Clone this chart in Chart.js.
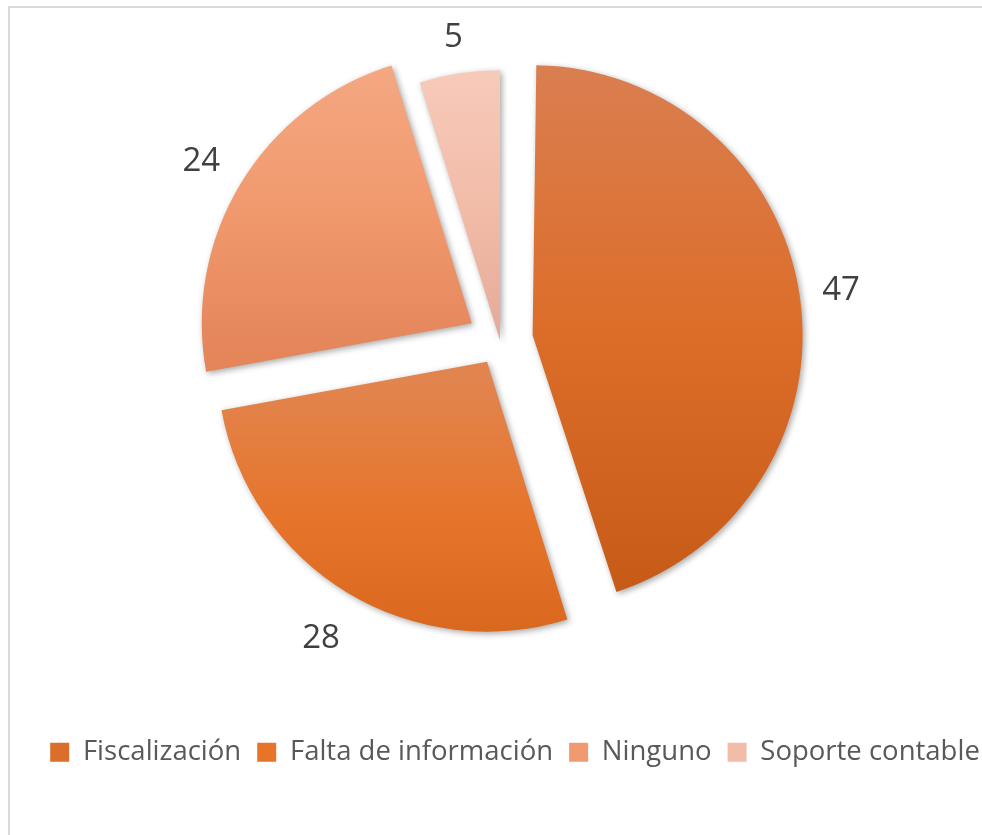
<!DOCTYPE html>
<html>
<head>
<meta charset="utf-8">
<script src="https://cdn.jsdelivr.net/npm/chart.js@4.4.0/dist/chart.umd.min.js"></script>
<style>
  html, body { margin: 0; padding: 0; background: #fff; overflow: hidden; }
  #frame { position: absolute; left: 8px; top: 6px; width: 1000px; height: 900px;
           border-top: 2px solid #d9d9d9; border-left: 2px solid #d9d9d9; }
  /* canvas is a bit taller / wider than the window so the pie sits where the original has it */
  #wrap { position: absolute; left: 0; top: -42px; width: 1010px; height: 877px; }
</style>
</head>
<body>
<div id="frame"></div>
<div id="wrap"><canvas id="myChart"></canvas></div>
<script>
// data
const categories = ['Fiscalización', 'Falta de información', 'Ninguno', 'Soporte contable'];
const values = [47, 28, 24, 5];

// style
const baseColors = ['#DC6E2C', '#E6752A', '#F29A6F', '#F2BCA9'];
const gradients = [
    ['#DA7E51', '#DC6E2A', '#C65B17'],
    ['#E2844E', '#E6742A', '#D7651B'],
    ['#F4A984', '#F29A6F', '#E4855A'],
    ['#F7CABA', '#F2BCA9', '#E4AA97']
];
const explode = [132, 100, 132, 0];   // chart.js moves a slice by offset/4
const labelPad = [42, 51, 46, 39];

const sliceLook = 
{
    id: 'sliceLook',
    beforeDatasetsDraw(chart) 
    {
        const c = chart.ctx;
        const meta = chart.getDatasetMeta(0);
        const baseR = meta.controller.outerRadius;
        meta.data.forEach((arc, i) => 
        {
            const p = arc.getProps(['x', 'y', 'startAngle', 'endAngle']);
            const off = (arc.options.offset || 0) / 4;
            // chart.js also grows an exploded slice's radius by off*fix, undo that
            const fix = 1 - Math.sin(Math.min(Math.PI, p.endAngle - p.startAngle));
            arc.outerRadius = baseR - off * fix;

            const half = (p.startAngle + p.endAngle) / 2;
            const cx = p.x + Math.cos(half) * off, cy = p.y + Math.sin(half) * off;
            let top = cy, bottom = cy;
            for (let k = 0; k <= 60; k++) 
            {
                const a = p.startAngle + (p.endAngle - p.startAngle) * k / 60;
                const yy = cy + Math.sin(a) * baseR;
                top = Math.min(top, yy);
                bottom = Math.max(bottom, yy);
            }
            const g = c.createLinearGradient(0, top, 0, bottom);
            const stops = gradients[i];
            stops.forEach((col, k) => g.addColorStop(k / (stops.length - 1), col));
            arc.options = Object.assign({}, arc.options, {backgroundColor: g});
        });
        c.save();
        c.shadowColor = 'rgba(0,0,0,0.35)';
        c.shadowBlur = 6;
        c.shadowOffsetX = 2;
        c.shadowOffsetY = 2;
    },
    afterDatasetsDraw(chart) 
    {
        const c = chart.ctx;
        c.restore();
        const meta = chart.getDatasetMeta(0);
        const baseR = meta.controller.outerRadius;
        c.save();
        c.font = '33px "Open Sans"';
        c.fillStyle = '#404040';
        c.textAlign = 'center';
        c.textBaseline = 'alphabetic';
        meta.data.forEach((arc, i) => 
        {
            const p = arc.getProps(['x', 'y', 'startAngle', 'endAngle']);
            const half = (p.startAngle + p.endAngle) / 2;
            const d = (arc.options.offset || 0) / 4 + baseR + labelPad[i];
            const lx = p.x + Math.cos(half) * d;
            const ly = p.y + Math.sin(half) * d;
            c.fillText(String(values[i]), lx, ly + 33 * 0.357);
        });
        c.restore();
    }
};

const ctx = document.getElementById('myChart');
new Chart(ctx, 
{
    type: 'pie',
    data: 
    {
        labels: categories,
        datasets: 
        [{
            data: values,
            backgroundColor: baseColors,
            borderWidth: 0,
            offset: explode,
            radius: 270
        }]
    },
    options: 
    {
        responsive: true,
        maintainAspectRatio: false,
        animation: false,
        events: [],
        layout: {padding: {left: 20, right: 0, top: 0, bottom: 59}},
        plugins: 
        {
            // empty title on the right only narrows the pie area, so the legend can sit a little right of the pie
            title: 
            {
                display: true,
                position: 'right',
                fullSize: false,
                text: ' ',
                padding: 0,
                font: {size: 25, lineHeight: 1.2}
            },
            legend: 
            {
                position: 'bottom',
                align: 'center',
                labels: 
                {
                    boxWidth: 19,
                    boxHeight: 19,
                    padding: 16,
                    color: '#595959',
                    font: {family: 'Open Sans', size: 27.5}
                }
            },
            tooltip: {enabled: false}
        }
    },
    plugins: [sliceLook]
});
</script>
</body>
</html>
